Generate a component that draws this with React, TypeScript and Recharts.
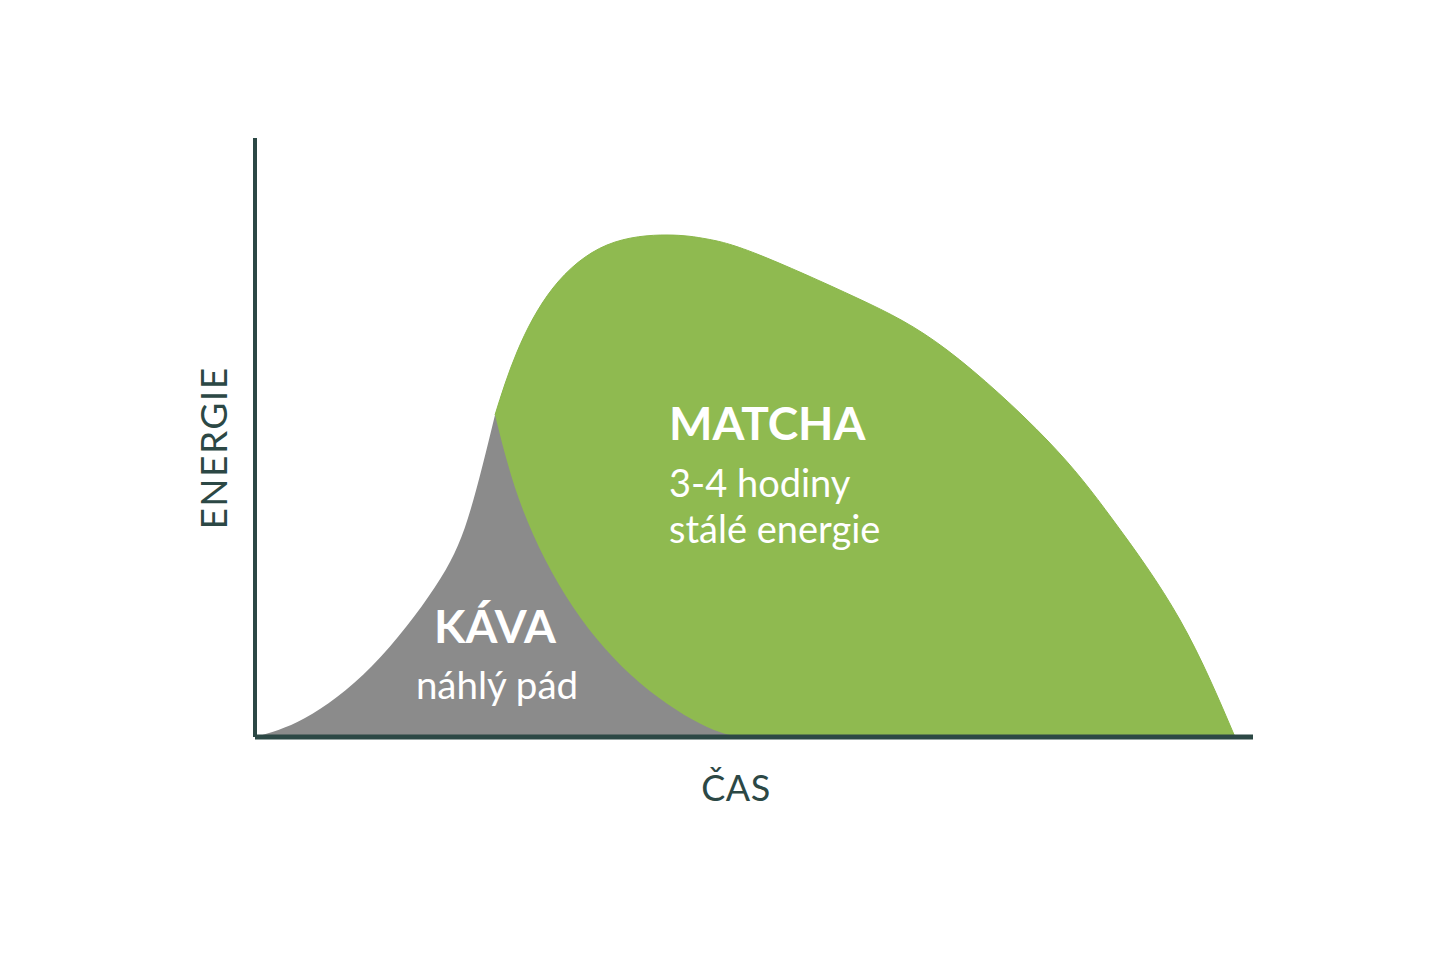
import React from "react";
import { ComposedChart, Area, XAxis, YAxis, ReferenceLine, ReferenceDot } from "recharts";

// Coffee (KÁVA) – rising part of the energy curve
const coffeeRiseTime = [0, 50, 117, 180, 213, 240];
const coffeeRiseEnergy = [0, 19, 71, 150, 219, 322];

// Coffee (KÁVA) – sudden drop
const coffeeFallTime = [240, 268, 318, 385, 452, 490];
const coffeeFallEnergy = [322, 227, 130, 54, 10, 0];

// Matcha – sustained energy
const matchaTime = [240, 262, 298, 352, 412, 452, 502, 602, 692, 792, 858, 925, 980];
const matchaEnergy = [322, 385, 449, 492, 502, 498, 483, 439, 387, 297, 217, 117, 0];

const xLabel = "ČAS";
const yLabel = "ENERGIE";
const matchaTitle = "MATCHA";
const matchaLines = ["3-4 hodiny", "stálé energie"];
const coffeeTitle = "KÁVA";
const coffeeLine = "náhlý pád";

// merge the three series into one table keyed by time
type Row = { t: number; rise: number | null; fall: number | null; matcha: number | null };
const buildRows = (): Row[] => {
  const map = new Map<number, Row>();
  const get = (t: number) => {
    if (!map.has(t)) map.set(t, { t, rise: null, fall: null, matcha: null });
    return map.get(t)!;
  };
  coffeeRiseTime.forEach((t, i) => (get(t).rise = coffeeRiseEnergy[i]));
  coffeeFallTime.forEach((t, i) => (get(t).fall = coffeeFallEnergy[i]));
  matchaTime.forEach((t, i) => (get(t).matcha = matchaEnergy[i]));
  return Array.from(map.values()).sort((a, b) => a.t - b.t);
};
const rows = buildRows();

const GREEN = "#8fba50";
const GRAY = "#8b8b8b";
const DARK = "#2c4845";
const FONT = "Lato, 'Open Sans', sans-serif";

const lbl = (value: string, size: number, weight: number | string, fill: string, position: any, extra: any = {}) => ({
  value,
  position,
  offset: 0,
  fill,
  fontSize: size,
  fontWeight: weight,
  fontFamily: FONT,
  ...extra,
});

export default function App() {
  return (
    <div style={{ position: "absolute", left: 0, top: 0, width: 1445, height: 963, background: "#fff" }}>
      <ComposedChart width={1445} height={963} data={rows} margin={{ top: 138, right: 192, bottom: 226, left: 255 }}>
        <XAxis type="number" dataKey="t" domain={[0, 998]} hide allowDataOverflow />
        <YAxis type="number" domain={[0, 599]} hide allowDataOverflow />
        <Area dataKey="matcha" type="natural" connectNulls fill={GREEN} fillOpacity={1} stroke="#8ab74a" strokeWidth={1} isAnimationActive={false} />
        <Area dataKey="rise" type="natural" connectNulls fill={GRAY} fillOpacity={1} stroke="none" isAnimationActive={false} />
        <Area dataKey="fall" type="natural" connectNulls fill={GRAY} fillOpacity={1} stroke="none" isAnimationActive={false} />
        <ReferenceLine x={0} stroke={DARK} strokeWidth={4} ifOverflow="visible" />
        <ReferenceLine y={0} stroke={DARK} strokeWidth={5} ifOverflow="visible" />
        <ReferenceDot x={414} y={313} r={0} ifOverflow="visible" label={lbl(matchaTitle, 46, 700, "#fff", "right")} />
        <ReferenceDot x={414} y={253} r={0} ifOverflow="visible" label={lbl(matchaLines[0], 38, 400, "#fff", "right")} />
        <ReferenceDot x={414} y={207} r={0} ifOverflow="visible" label={lbl(matchaLines[1], 38, 400, "#fff", "right")} />
        <ReferenceDot x={240} y={110} r={0} ifOverflow="visible" label={lbl(coffeeTitle, 46, 700, "#fff", "center")} />
        <ReferenceDot x={242} y={52} r={0} ifOverflow="visible" label={lbl(coffeeLine, 38.5, 400, "#fff", "center")} />
        <ReferenceDot x={481} y={-51} r={0} ifOverflow="visible" label={lbl(xLabel, 36, 400, DARK, "center", { letterSpacing: 0.5 })} />
        <ReferenceDot x={-41} y={289} r={0} ifOverflow="visible" label={lbl(yLabel, 37, 400, DARK, "center", { angle: -90, letterSpacing: 1.5 })} />
      </ComposedChart>
    </div>
  );
}
